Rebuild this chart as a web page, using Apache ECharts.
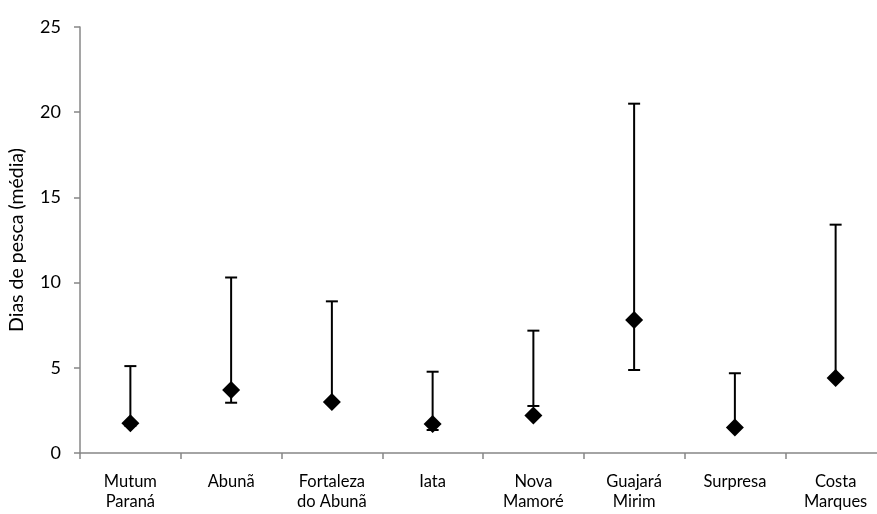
<!DOCTYPE html>
<html>
<head>
<meta charset="utf-8">
<script src="https://cdn.jsdelivr.net/npm/echarts@6/dist/echarts.min.js"></script>
<style>
  html, body { margin: 0; padding: 0; background: #fff; }
  #main { width: 877px; height: 514px; }
</style>
</head>
<body>
<div id="main"></div>
<script>
var categories = ['Mutum\nParaná', 'Abunã', 'Fortaleza\ndo Abunã', 'Iata', 'Nova\nMamoré', 'Guajará\nMirim', 'Surpresa', 'Costa\nMarques'];
var means = [1.75, 3.7, 3.0, 1.7, 2.2, 7.8, 1.5, 4.4];
var upper = [5.1, 10.3, 8.9, 4.77, 7.18, 20.5, 4.68, 13.4];
var lower = [1.6, 2.95, 2.9, 1.35, 2.76, 4.87, 1.4, 4.5];
var yTicks = [0, 5, 10, 15, 20, 25];

var errData = categories.map(function (c, i) { return [i, lower[i], upper[i]]; });

var chart = echarts.init(document.getElementById('main'));
chart.setOption({
  animation: false,
  textStyle: { fontFamily: 'Lato' },
  grid: { left: 80, top: 27, right: -9, bottom: 61, outerBoundsMode: 'none', containLabel: false },
  xAxis: {
    type: 'category',
    data: categories,
    axisLine: { lineStyle: { color: '#878787', width: 1.5 } },
    axisTick: { show: true, length: 6, lineStyle: { color: '#878787', width: 1.5 } },
    axisLabel: { color: '#000', fontSize: 16.5, lineHeight: 20, margin: 19, interval: 0 }
  },
  yAxis: {
    type: 'value',
    min: yTicks[0],
    max: yTicks[yTicks.length - 1],
    interval: 5,
    name: 'Dias de pesca (média)',
    nameLocation: 'middle',
    nameGap: 53,
    nameTextStyle: { color: '#000', fontSize: 19.5 },
    axisLine: { show: true, lineStyle: { color: '#878787', width: 1.5 } },
    axisTick: { show: true, length: 6, lineStyle: { color: '#878787', width: 1.5 } },
    axisLabel: { color: '#000', fontSize: 18, margin: 19 },
    splitLine: { show: false }
  },
  series: [
    {
      type: 'custom',
      data: errData,
      z: 2,
      clip: false,
      renderItem: function (params, api) {
        var x = api.value(0);
        var lo = api.coord([x, api.value(1)]);
        var hi = api.coord([x, api.value(2)]);
        var hw = 6;
        var style = { stroke: '#000', lineWidth: 2 };
        return {
          type: 'group',
          children: [
            { type: 'line', shape: { x1: hi[0], y1: hi[1], x2: lo[0], y2: lo[1] }, style: style },
            { type: 'line', shape: { x1: hi[0] - hw, y1: hi[1], x2: hi[0] + hw, y2: hi[1] }, style: style },
            { type: 'line', shape: { x1: lo[0] - hw, y1: lo[1], x2: lo[0] + hw, y2: lo[1] }, style: style }
          ]
        };
      }
    },
    {
      type: 'scatter',
      data: means,
      symbol: 'diamond',
      symbolSize: [18, 18],
      z: 3,
      itemStyle: { color: '#000', opacity: 1 }
    }
  ]
});
</script>
</body>
</html>
